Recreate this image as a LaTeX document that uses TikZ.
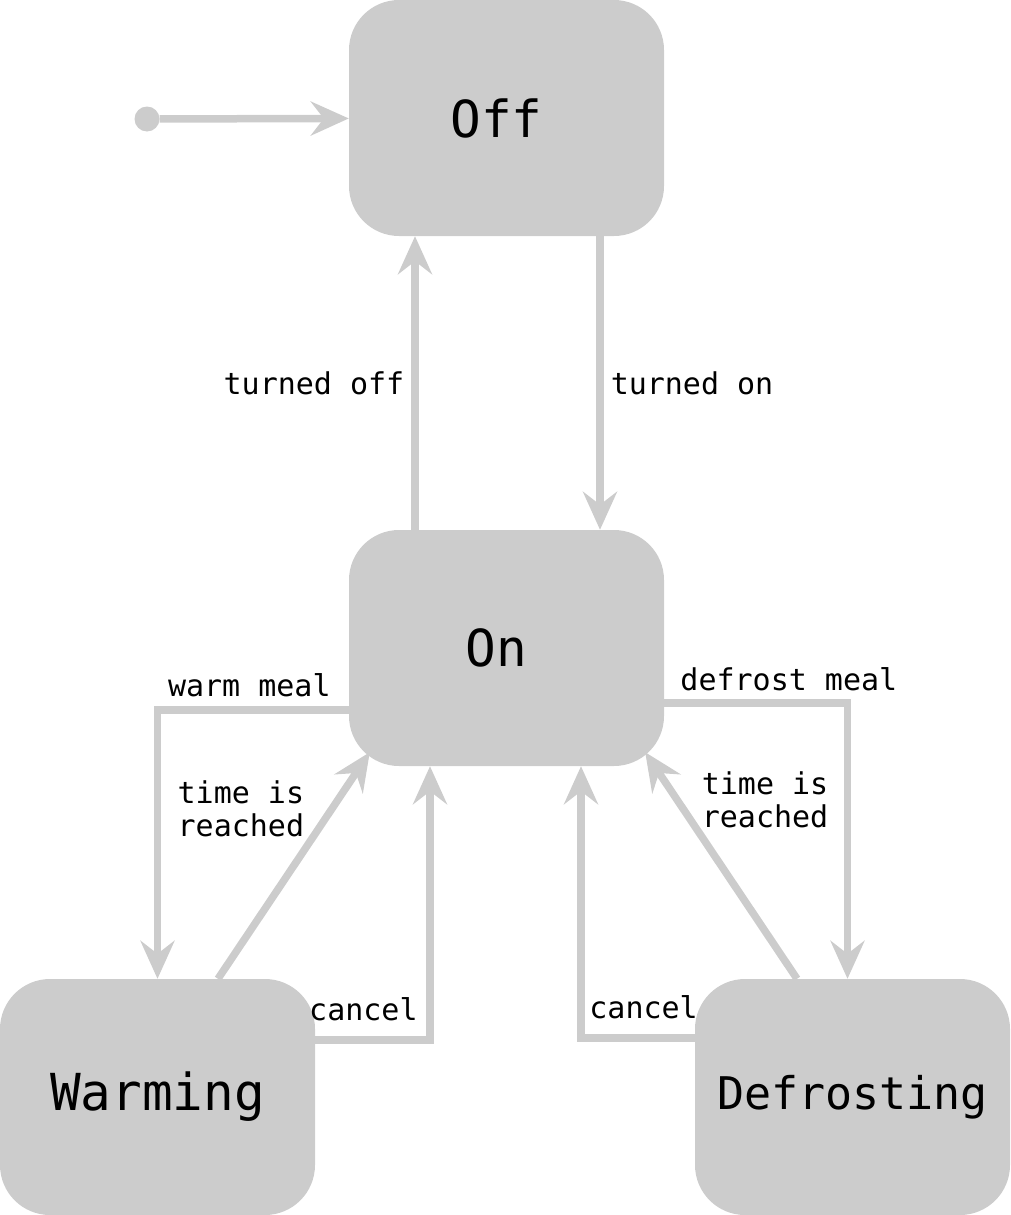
\documentclass[tikz,border=0pt]{standalone}
\usepackage{fontspec}
\setmonofont{DejaVu Sans Mono}
\usetikzlibrary{arrows.meta}
\definecolor{stategray}{HTML}{CCCCCC}

\begin{document}
\begin{tikzpicture}[x=1pt,y=-1pt,
    state/.style={fill=stategray,rounded corners=50pt,minimum width=315pt,minimum height=236pt,
      inner sep=0pt,font=\ttfamily\fontsize{51}{60}\selectfont},
    edge/.style={draw=stategray,line width=7.5pt,-{Stealth[length=38pt,width=34pt,inset=13pt]}},
    lbl/.style={inner sep=2pt,font=\ttfamily\fontsize{30}{33}\selectfont,text=black,align=left},
    initdot/.style={circle,fill=stategray,minimum size=25pt,inner sep=0pt}]
    \useasboundingbox (0,0) rectangle (1010,1215);

    \node [state] (off) at (506.5,118) {Off\kern20pt};
    \node [state] (on) at (506.5,648) {On\kern20pt};
    \node [state] (warming) at (157.5,1097) {Warming};
    \node [state,font=\ttfamily\fontsize{45}{54}\selectfont] (defrosting) at (852.5,1097) {Defrosting};
    \node [initdot] (start) at (147,119) {};

    \draw [edge] (start) -- (off);
    \draw [edge] ([xshift=-91.5pt]on.north) -- node [lbl,midway,left=5pt] {turned off} ([xshift=-91.5pt]off.south);
    \draw [edge] ([xshift=93.5pt]off.south) -- node [lbl,midway,right=5pt] {turned on} ([xshift=93.5pt]on.north);

    \draw [edge] ([yshift=-62pt]on.west) -| node [lbl,pos=0.26,above=7pt] {warm meal} (warming.north);
    \draw [edge] ([yshift=-55pt]on.east) -| node [lbl,pos=0.34,above=6pt] {defrost meal} ([xshift=-5pt]defrosting.north);

    \draw [edge] ([xshift=60.5pt]warming.north) -- node [lbl,pos=0.75,left=22pt] {time is\\reached} ([shift={(21pt,14pt)}]on.south west);
    \draw [edge] ([xshift=-55.5pt]defrosting.north) -- node [lbl,pos=0.79,right=19pt] {time is\\reached} ([shift={(-19pt,14pt)}]on.south east);

    \draw [edge] ([yshift=57pt]warming.east) -| node [lbl,pos=0.21,above=13pt] {cancel} ([xshift=-76.5pt]on.south);
    \draw [edge] ([yshift=59pt]defrosting.west) -| node [lbl,pos=0.225,above=13pt] {cancel} ([xshift=74.5pt]on.south);
\end{tikzpicture}
\end{document}
